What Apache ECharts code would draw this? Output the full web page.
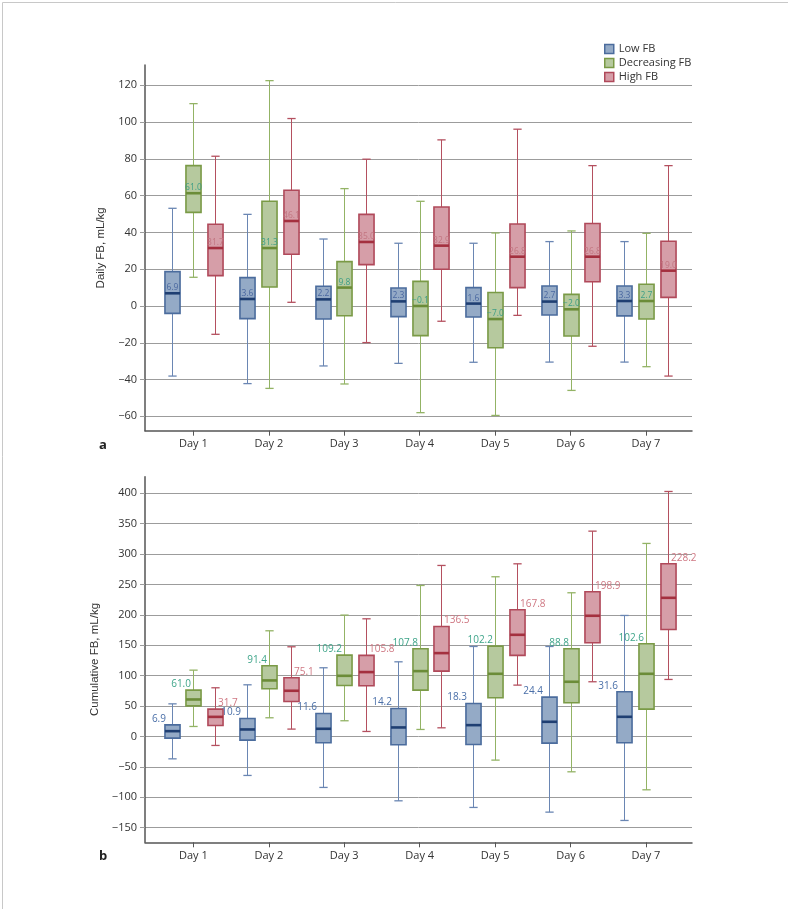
<!DOCTYPE html>
<html><head><meta charset="utf-8">
<script src="https://cdn.jsdelivr.net/npm/echarts@6/dist/echarts.min.js"></script>
<style>html,body{margin:0;padding:0;background:#fff}#c{width:788px;height:909px}</style>
</head><body><div id="c"></div><script>
// ---------- data ----------
const days = ['Day 1','Day 2','Day 3','Day 4','Day 5','Day 6','Day 7'];
const groups = ['Low FB','Decreasing FB','High FB'];
const dailyTicks = [-60,-40,-20,0,20,40,60,80,100,120];
const cumTicks = [-150,-100,-50,0,50,100,150,200,250,300,350,400];
// each row: [min, Q1, median, Q3, max]
const dailyLow = [[-38.1,-4.0,6.9,18.7,53.1],[-42.2,-6.9,3.8,15.4,49.8],[-32.6,-7.1,3.6,10.7,36.4],[-31.2,-5.8,2.5,9.8,34.1],[-30.6,-6.0,1.3,10.0,34.1],[-30.5,-4.9,2.4,10.9,35.0],[-30.5,-5.4,2.7,10.9,35.0]];
const dailyDec = [[15.6,50.9,61.3,76.3,110.0],[-44.8,10.3,31.5,56.9,122.5],[-42.4,-5.3,10.0,24.1,63.8],[-58.0,-16.1,0.0,13.4,56.9],[-59.5,-22.7,-7.1,7.3,39.7],[-45.9,-16.3,-1.8,6.3,40.8],[-33.0,-7.1,2.7,11.8,39.5]];
const dailyHigh = [[-15.4,16.5,31.5,44.4,81.4],[2.0,28.1,46.2,62.9,101.9],[-19.9,22.5,34.8,49.8,79.8],[-8.3,20.0,32.8,53.8,90.3],[-5.1,10.0,26.8,44.6,96.1],[-21.9,13.2,26.8,44.8,76.3],[-38.1,4.7,19.2,35.2,76.3]];
const dailyLowLabels = ['6.9','3.6','2.2','2.3','1.6','2.7','3.3'];
const dailyDecLabels = ['61.0','31.3','9.8','-0.1','-7.0','-2.0','2.7'];
const dailyHighLabels = ['31.7','46.1','35.0','32.9','26.8','26.8','19.0'];

const cumLow = [[-36.8,-2.8,8.7,19.1,53.6],[-64.1,-6.0,11.5,29.6,84.9],[-83.8,-10.4,12.6,37.8,112.9],[-105.8,-13.7,14.8,46.0,122.7],[-116.7,-13.2,18.6,54.2,147.9],[-124.4,-11.0,24.1,64.7,147.9],[-138.1,-10.4,32.3,73.4,198.9]];
const cumDec = [[16.4,50.3,60.8,76.1,109.0],[30.7,78.4,92.1,116.2,173.7],[25.8,83.8,99.7,133.7,199.5],[11.5,76.2,107.4,144.1,248.2],[-38.9,63.6,103.0,148.5,262.5],[-58.1,55.3,89.9,144.1,236.2],[-87.7,44.9,103.0,152.3,317.3]];
const cumHigh = [[-14.8,18.1,32.2,44.9,80.0],[12.1,57.5,75.1,96.4,147.4],[8.2,83.3,105.8,133.2,193.4],[14.2,107.4,137.0,180.8,281.1],[84.4,133.2,167.1,208.2,283.8],[89.9,154.0,198.4,237.8,337.5],[93.7,175.9,227.9,283.8,402.7]];
const cumLowLabels = ['6.9','10.9','11.6','14.2','18.3','24.4','31.6'];
const cumDecLabels = ['61.0','91.4','109.2','107.8','102.2','88.8','102.6'];
const cumHighLabels = ['31.7','75.1','105.8','136.5','167.8','198.9','228.2'];

// ---------- styles ----------
const styles = [
  {fill:'#94aac6', border:'#4b6c9d', median:'#1f3f72', whisker:'#6a86b3', labTop:'#4a68a0', labBot:'#4a6fa8'},
  {fill:'#b6c99e', border:'#7a9a46', median:'#6b8c38', whisker:'#93b365', labTop:'#3d9e86', labBot:'#3fa58a'},
  {fill:'#d69ea8', border:'#b0495a', median:'#a4303f', whisker:'#b4505f', labTop:'#c27581', labBot:'#cf7883'}
];
const groupOffset = [-0.288, 0, 0.288];
const FONT = '"Open Sans", sans-serif';
const minus = s => String(s).replace('-', '\u2212');

function makeRender(gi, labels, panel) {
  const s = styles[gi];
  return function (params, api) {
    const x = api.value(0);
    const unit = api.size([1, 0])[0];
    const cx = Math.round(api.coord([x, 0])[0] + groupOffset[gi] * unit) + 0.5;
    const y = i => api.coord([x, api.value(i)])[1];
    const yMin = y(1), yQ1 = y(2), yMed = y(3), yQ3 = y(4), yMax = y(5);
    const hw = 0.1 * unit, cw = 0.055 * unit;
    const ch = [
      {type:'line', shape:{x1:cx,y1:yQ3,x2:cx,y2:yMax}, style:{stroke:s.whisker,lineWidth:1}},
      {type:'line', shape:{x1:cx,y1:yQ1,x2:cx,y2:yMin}, style:{stroke:s.whisker,lineWidth:1}},
      {type:'line', shape:{x1:cx-cw,y1:yMax,x2:cx+cw,y2:yMax}, style:{stroke:s.whisker,lineWidth:1.3}},
      {type:'line', shape:{x1:cx-cw,y1:yMin,x2:cx+cw,y2:yMin}, style:{stroke:s.whisker,lineWidth:1.3}},
      {type:'rect', shape:{x:cx-hw,y:yQ3,width:2*hw,height:yQ1-yQ3}, style:{fill:s.fill,stroke:s.border,lineWidth:1.6}},
      {type:'line', shape:{x1:cx-hw,y1:yMed,x2:cx+hw,y2:yMed}, style:{stroke:s.median,lineWidth:2.6}}
    ];
    const txt = minus(labels[params.dataIndex]);
    if (panel === 0) {
      ch.push({type:'text', x:cx, y:yMed-1, z2:10, style:{text:txt, fill:s.labTop, font:'8.5px ' + FONT,
        align:'center', verticalAlign:'bottom', textAlign:'center', textVerticalAlign:'bottom'}});
    } else {
      let tx, al;
      if (gi === 0) { tx = cx - hw + 1; al = 'right'; }
      else if (gi === 1) { tx = cx - hw + 5; al = 'right'; }
      else { tx = cx + hw - 5; al = 'left'; }
      ch.push({type:'text', x:tx, y:yQ3-1, z2:10, style:{text:txt, fill:s.labBot, font:'10px ' + FONT,
        align:al, verticalAlign:'bottom', textAlign:al, textVerticalAlign:'bottom'}});
    }
    return {type:'group', children:ch};
  };
}

function buildSeries(panel, sets, labelSets) {
  return sets.map((arr, gi) => ({
    type:'custom', name:groups[gi], xAxisIndex:panel, yAxisIndex:panel,
    itemStyle:{color:styles[gi].fill, borderColor:styles[gi].border, borderWidth:1.5},
    renderItem: makeRender(gi, labelSets[gi], panel),
    encode:{x:0, y:[1,2,3,4,5]},
    data: arr.map((v, i) => [i + 1].concat(v)),
    clip:false, silent:true
  }));
}

const gridColor = '#9c9c9c';
function xAxisDef(gi) {
  return {
    gridIndex:gi, type:'value', min:0.359, max:7.61, splitNumber:7,
    axisLine:{show:true, onZero:false, lineStyle:{color:'#555', width:1.5}},
    axisTick:{show:true, length:5, customValues:[1,2,3,4,5,6,7], lineStyle:{color:'#555'}},
    axisLabel:{customValues:[1,2,3,4,5,6,7], margin:8, fontFamily:'Open Sans', fontSize:11, color:'#333',
      formatter: v => (Math.abs(v - Math.round(v)) < 1e-6 && v >= 1 && v <= 7) ? days[Math.round(v) - 1] : ''},
    splitLine:{show:false}
  };
}
function yAxisDef(gi, mn, mx, ticks, name, gap) {
  return {
    gridIndex:gi, type:'value', min:mn, max:mx, splitNumber: gi === 0 ? 10 : 12,
    name:name, nameLocation:'middle', nameGap:gap,
    nameTextStyle:{fontFamily:'Liberation Sans', fontSize:11.5, color:'#333'},
    axisLine:{show:true, lineStyle:{color:'#555', width:1.5}},
    axisTick:{show:true, length:5, customValues:ticks, lineStyle:{color:gridColor}},
    axisLabel:{customValues:ticks, margin:8, fontFamily:'Open Sans', fontSize:11, color:'#333',
      formatter: v => ticks.indexOf(Math.round(v)) >= 0 && Math.abs(v - Math.round(v)) < 1e-6 ? minus(Math.round(v)) : ''},
    splitLine:{show:true, lineStyle:{color:gridColor, width:1}}
  };
}

const chart = echarts.init(document.getElementById('c'), null, {renderer:'canvas'});
chart.setOption({
  animation:false,
  backgroundColor:'#fff',
  grid:[
    {left:145, top:65, width:547, height:365.7},
    {left:145, top:476.7, width:547, height:365.6}
  ],
  legend:{
    orient:'vertical', left:604, top:42, padding:0, itemGap:0, itemWidth:9, itemHeight:9,
    textStyle:{fontFamily:'Open Sans', fontSize:11, color:'#333', lineHeight:14},
    data: groups.map((g, gi) => ({name:g, icon:'rect',
      itemStyle:{color:styles[gi].fill, borderColor:styles[gi].border, borderWidth:1.5}}))
  },
  xAxis:[xAxisDef(0), xAxisDef(1)],
  yAxis:[
    yAxisDef(0, -67.8, 131, dailyTicks, 'Daily FB, mL/kg', 31),
    yAxisDef(1, -174, 427, cumTicks, 'Cumulative FB, mL/kg', 32)
  ],
  graphic:[
    {type:'rect', left:0, top:0, shape:{x:0.5, y:0.5, width:787, height:908}, style:{fill:'none', stroke:'#c8c8c8', lineWidth:1}, silent:true},
    {type:'text', left:99, top:439, style:{text:'a', font:'bold 13px "Open Sans"', fill:'#222'}},
    {type:'text', left:99, top:850, style:{text:'b', font:'bold 13px "Open Sans"', fill:'#222'}}
  ],
  series: buildSeries(0, [dailyLow, dailyDec, dailyHigh], [dailyLowLabels, dailyDecLabels, dailyHighLabels])
    .concat(buildSeries(1, [cumLow, cumDec, cumHigh], [cumLowLabels, cumDecLabels, cumHighLabels]))
});
</script></body></html>
